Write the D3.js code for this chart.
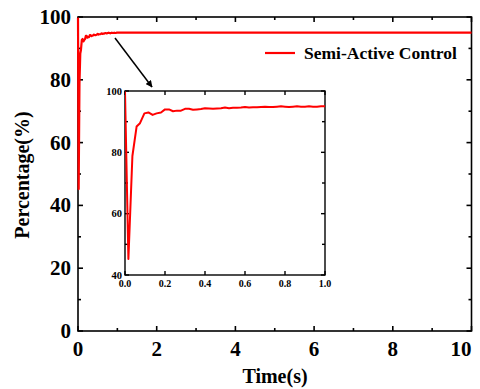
<!DOCTYPE html>
<html>
<head>
<meta charset="utf-8">
<script src="https://cdn.jsdelivr.net/npm/d3@7"></script>
<style>
  html, body { margin: 0; padding: 0; background: #fff; }
</style>
</head>
<body>
<div id="chart"></div>
<script>
// serie: porcentaje vs tiempo (semi-active control)
const timeS = [0, 0.017, 0.037, 0.058, 0.075, 0.097, 0.117, 0.138, 0.158, 0.18,
  0.2, 0.22, 0.24, 0.26, 0.28, 0.3, 0.32, 0.34, 0.36, 0.38,
  0.4, 0.42, 0.44, 0.46, 0.48, 0.5, 0.52, 0.54, 0.56, 0.58,
  0.6, 0.62, 0.64, 0.66, 0.68, 0.7, 0.72, 0.74, 0.76, 0.78,
  0.8, 0.82, 0.84, 0.86, 0.88, 0.9, 0.92, 0.94, 0.96, 0.98, 1.0,
  1.5, 2, 2.5, 3, 3.5, 4, 4.5, 5, 5.5, 6, 6.5, 7, 7.5, 8, 8.5, 9, 9.5, 10];
const percent = [99.8, 45.2, 78.8, 88.4, 89.5, 92.7, 93.0, 92.2, 92.7, 93.0,
  94.0, 94.0, 93.4, 93.6, 93.6, 94.2, 94.2, 93.9, 94.0, 94.1,
  94.4, 94.3, 94.2, 94.3, 94.4, 94.6, 94.4, 94.5, 94.5, 94.6,
  94.8, 94.6, 94.7, 94.7, 94.8, 94.9, 94.8, 94.8, 94.9, 95.0,
  94.9, 94.8, 94.9, 95.0, 94.9, 94.9, 95.0, 94.9, 94.9, 95.0, 95.0,
  95.0, 95.0, 95.0, 95.0, 95.0, 95.0, 95.0, 95.0, 95.0, 95.0, 95.0, 95.0, 95.0, 95.0, 95.0, 95.0, 95.0, 95.0];

const xTicks = [0, 2, 4, 6, 8, 10];
const yTicks = [0, 20, 40, 60, 80, 100];
const insetXTicks = [0, 0.2, 0.4, 0.6, 0.8, 1.0];
const insetYTicks = [40, 60, 80, 100];
const seriesName = 'Semi-Active Control';

const W = 480, H = 389;
const svg = d3.select('#chart').append('svg')
  .attr('width', W).attr('height', H).attr('viewBox', `0 0 ${W} ${H}`)
  .attr('font-family', "'Liberation Serif', 'DejaVu Serif', serif")
  .attr('font-weight', 'bold');

const rows = timeS.map((t, i) => ({ t, v: percent[i] }));
const red = '#ff0000';

// ---- panel principal
const x = d3.scaleLinear().domain([0, 10]).range([78, 471.5]);
const y = d3.scaleLinear().domain([0, 100]).range([331, 17]);

function frame(g, xs, ys, xt, yt, xMinor, yMinor, majLen, minLen, sw){
  const [x0, x1] = xs.range(), [y0, y1] = ys.range();
  const tk = g.append('g').attr('stroke', '#000').attr('stroke-width', sw);
  xt.forEach(v => {
    tk.append('line').attr('x1', xs(v)).attr('x2', xs(v)).attr('y1', y0).attr('y2', y0 - majLen);
    tk.append('line').attr('x1', xs(v)).attr('x2', xs(v)).attr('y1', y1).attr('y2', y1 + majLen);
  });
  xMinor.forEach(v => {
    tk.append('line').attr('x1', xs(v)).attr('x2', xs(v)).attr('y1', y0).attr('y2', y0 - minLen);
    tk.append('line').attr('x1', xs(v)).attr('x2', xs(v)).attr('y1', y1).attr('y2', y1 + minLen);
  });
  yt.forEach(v => {
    tk.append('line').attr('y1', ys(v)).attr('y2', ys(v)).attr('x1', x0).attr('x2', x0 + majLen);
    tk.append('line').attr('y1', ys(v)).attr('y2', ys(v)).attr('x1', x1).attr('x2', x1 - majLen);
  });
  yMinor.forEach(v => {
    tk.append('line').attr('y1', ys(v)).attr('y2', ys(v)).attr('x1', x0).attr('x2', x0 + minLen);
    tk.append('line').attr('y1', ys(v)).attr('y2', ys(v)).attr('x1', x1).attr('x2', x1 - minLen);
  });
  g.append('rect').attr('x', x0).attr('y', y1).attr('width', x1 - x0).attr('height', y0 - y1)
    .attr('fill', 'none').attr('stroke', '#000').attr('stroke-width', sw);
}

const main = svg.append('g');
frame(main, x, y, xTicks, yTicks, [1, 3, 5, 7, 9], [10, 30, 50, 70, 90], 5, 3, 1.6);

main.append('path').datum(rows)
  .attr('fill', 'none').attr('stroke', red).attr('stroke-width', 2.2)
  .attr('stroke-linejoin', 'round')
  .attr('d', d3.line().x(d => x(d.t)).y(d => y(d.v)));

// la última etiqueta queda pegada al borde derecho, como en la figura
main.selectAll('text.xt').data(xTicks).join('text').attr('class', 'xt')
  .attr('x', d => Math.min(x(d), W - 1))
  .attr('text-anchor', d => x(d) + 10 > W ? 'end' : 'middle')
  .attr('y', 356).attr('font-size', 21).text(d => d);
main.selectAll('text.yt').data(yTicks).join('text').attr('class', 'yt')
  .attr('x', 71).attr('y', d => y(d) + 7).attr('text-anchor', 'end')
  .attr('font-size', 21).text(d => d);

svg.append('text').attr('x', 275).attr('y', 383).attr('text-anchor', 'middle')
  .attr('font-size', 20).text('Time(s)');
svg.append('text').attr('transform', 'translate(29,175) rotate(-90)')
  .attr('text-anchor', 'middle').attr('font-size', 20).text('Percentage(%)');

// leyenda
svg.append('line').attr('x1', 265).attr('x2', 295).attr('y1', 53).attr('y2', 53)
  .attr('stroke', red).attr('stroke-width', 2.2);
svg.append('text').attr('x', 304).attr('y', 59).attr('font-size', 17.5).text(seriesName);

// flecha
const defs = svg.append('defs');
defs.append('marker').attr('id', 'ah').attr('viewBox', '0 0 10 10')
  .attr('refX', 9).attr('refY', 5).attr('markerWidth', 7).attr('markerHeight', 7)
  .attr('orient', 'auto').attr('markerUnits', 'userSpaceOnUse')
  .append('path').attr('d', 'M0,0 L10,5 L0,10 Z').attr('fill', '#000');
svg.append('line').attr('x1', 115).attr('y1', 38).attr('x2', 152).attr('y2', 87)
  .attr('stroke', '#000').attr('stroke-width', 1.5).attr('marker-end', 'url(#ah)');

// ---- recuadro ampliado
const xi = d3.scaleLinear().domain([0, 1]).range([125, 325]);
const yi = d3.scaleLinear().domain([40, 100]).range([275, 91]);
const inset = svg.append('g');
inset.append('rect').attr('x', 125).attr('y', 91).attr('width', 200).attr('height', 184).attr('fill', '#fff');
frame(inset, xi, yi, insetXTicks, insetYTicks, [], [50, 70, 90], 4, 3, 1.4);

const clipId = 'insetClip';
defs.append('clipPath').attr('id', clipId).append('rect')
  .attr('x', 125).attr('y', 88).attr('width', 200).attr('height', 190);
inset.append('path').datum(rows.filter(d => d.t <= 1))
  .attr('clip-path', `url(#${clipId})`)
  .attr('fill', 'none').attr('stroke', red).attr('stroke-width', 2)
  .attr('stroke-linejoin', 'round')
  .attr('d', d3.line().x(d => xi(d.t)).y(d => yi(d.v)));

inset.selectAll('text.xt').data(insetXTicks).join('text').attr('class', 'xt')
  .attr('x', d => xi(d)).attr('y', 287).attr('text-anchor', 'middle')
  .attr('font-size', 10).text(d => d3.format('.1f')(d));
inset.selectAll('text.yt').data(insetYTicks).join('text').attr('class', 'yt')
  .attr('x', 122).attr('y', d => yi(d) + 3.5).attr('text-anchor', 'end')
  .attr('font-size', 10.5).text(d => d);
</script>
</body>
</html>
